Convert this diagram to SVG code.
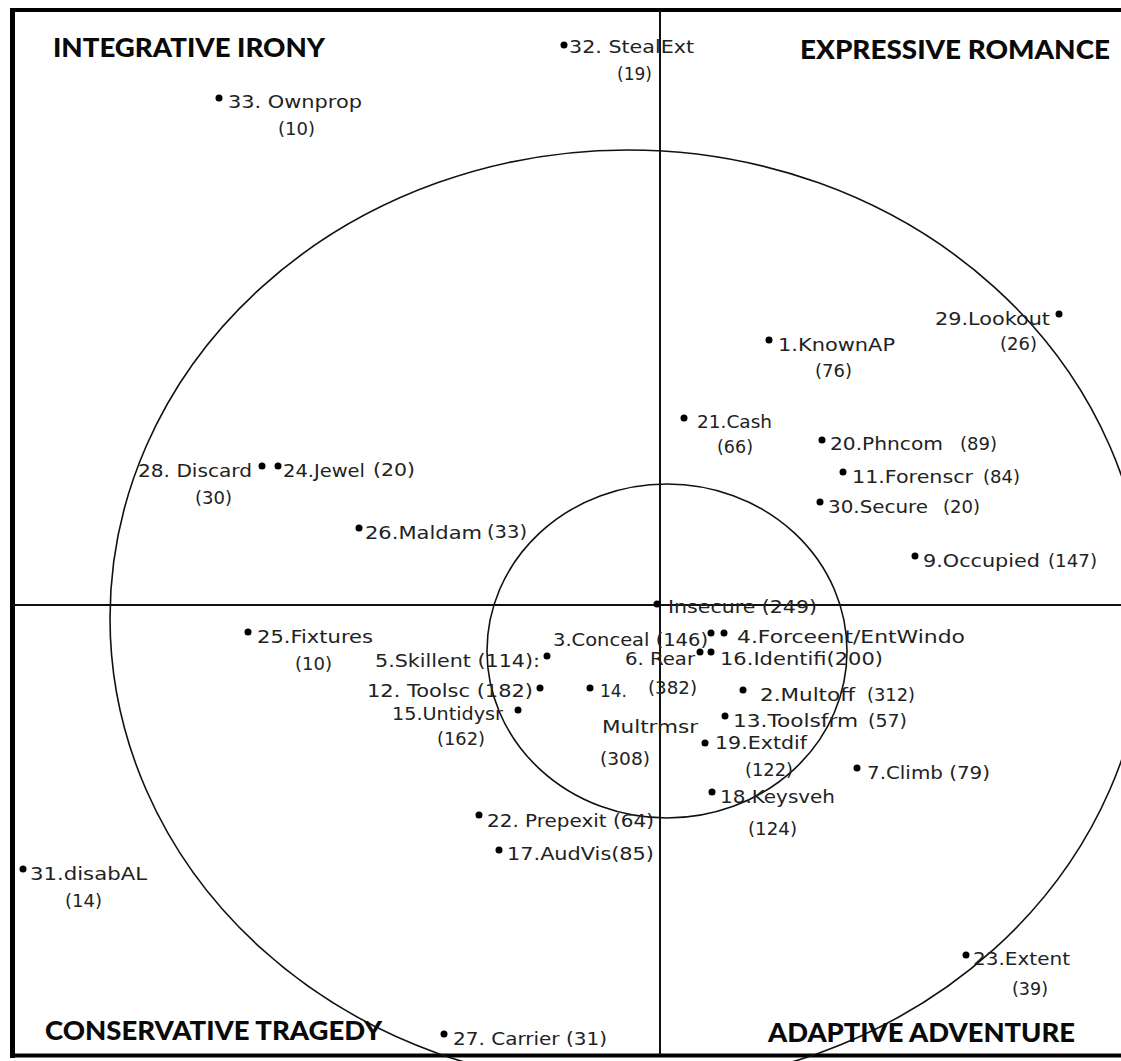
<svg xmlns="http://www.w3.org/2000/svg" width="1121" height="1061" viewBox="0 0 1121 1061">
  <style>
    .frame { fill: none; stroke: #000; }
    .axis { stroke: #111; stroke-width: 2; }
    .ring { fill: none; stroke: #111; stroke-width: 1.6; }
    .head { font-family: Lato, "Liberation Sans", sans-serif; font-weight: 900; font-size: 26px; fill: #0a0a0a; }
    .lbl { font-family: "DejaVu Sans", "Liberation Sans", sans-serif; font-size: 18px; fill: #222; }
    .pt { fill: #000; }
  </style>
  <rect x="0" y="0" width="1121" height="1061" fill="#fff"/>

  <!-- outer border (open on the right-hand side) -->
  <g id="border">
    <line class="frame" x1="12.5" y1="8" x2="12.5" y2="1058" stroke-width="5"/>
    <line class="frame" x1="10" y1="10" x2="1121" y2="10" stroke-width="4"/>
    <line class="frame" x1="10" y1="1055.5" x2="1121" y2="1055.5" stroke-width="4"/>
  </g>

  <!-- quadrant axes and the two rings -->
  <g id="grid">
    <line class="axis" x1="660" y1="10" x2="660" y2="1055"/>
    <line class="axis" x1="12" y1="605" x2="1121" y2="605"/>
    <ellipse class="ring" cx="628" cy="618" rx="518" ry="468"/>
    <ellipse class="ring" cx="667" cy="651" rx="180" ry="167"/>
  </g>

  <!-- quadrant titles -->
  <g id="titles">
    <text id="t-irony" class="head" x="53" y="57" textLength="272" lengthAdjust="spacingAndGlyphs">INTEGRATIVE IRONY</text>
    <text id="t-romance" class="head" x="800" y="59" textLength="310" lengthAdjust="spacingAndGlyphs">EXPRESSIVE ROMANCE</text>
    <text id="t-tragedy" class="head" x="45" y="1040" textLength="337" lengthAdjust="spacingAndGlyphs">CONSERVATIVE TRAGEDY</text>
    <text id="t-adventure" class="head" x="768" y="1042" textLength="307" lengthAdjust="spacingAndGlyphs">ADAPTIVE ADVENTURE</text>
  </g>

  <!-- plotted variables -->
  <g id="points">
    <g id="p32"><circle class="pt" cx="564" cy="45" r="3.5"/>
      <text class="lbl" x="569" y="53" textLength="125" lengthAdjust="spacingAndGlyphs">32. StealExt</text>
      <text class="lbl" x="617" y="80" textLength="35" lengthAdjust="spacingAndGlyphs">(19)</text></g>
    <g id="p33"><circle class="pt" cx="219" cy="98" r="3.5"/>
      <text class="lbl" x="228" y="108" textLength="134" lengthAdjust="spacingAndGlyphs">33. Ownprop</text>
      <text class="lbl" x="278" y="135" textLength="37" lengthAdjust="spacingAndGlyphs">(10)</text></g>
    <g id="p29"><circle class="pt" cx="1059" cy="314" r="3.5"/>
      <text class="lbl" x="935" y="325" textLength="115" lengthAdjust="spacingAndGlyphs">29.Lookout</text>
      <text class="lbl" x="1000" y="350" textLength="37" lengthAdjust="spacingAndGlyphs">(26)</text></g>
    <g id="p1"><circle class="pt" cx="769" cy="340" r="3.5"/>
      <text class="lbl" x="778" y="351" textLength="117" lengthAdjust="spacingAndGlyphs">1.KnownAP</text>
      <text class="lbl" x="815" y="377" textLength="37" lengthAdjust="spacingAndGlyphs">(76)</text></g>
    <g id="p21"><circle class="pt" cx="684" cy="418" r="3.5"/>
      <text class="lbl" x="697" y="428" textLength="75" lengthAdjust="spacingAndGlyphs">21.Cash</text>
      <text class="lbl" x="717" y="453" textLength="36" lengthAdjust="spacingAndGlyphs">(66)</text></g>
    <g id="p20"><circle class="pt" cx="822" cy="440" r="3.5"/>
      <text class="lbl" x="830" y="450" textLength="113" lengthAdjust="spacingAndGlyphs">20.Phncom</text>
      <text class="lbl" x="960" y="450" textLength="37" lengthAdjust="spacingAndGlyphs">(89)</text></g>
    <g id="p11"><circle class="pt" cx="843" cy="472" r="3.5"/>
      <text class="lbl" x="852" y="483" textLength="121" lengthAdjust="spacingAndGlyphs">11.Forenscr</text>
      <text class="lbl" x="983" y="483" textLength="37" lengthAdjust="spacingAndGlyphs">(84)</text></g>
    <g id="p30"><circle class="pt" cx="820" cy="502" r="3.5"/>
      <text class="lbl" x="828" y="513" textLength="100" lengthAdjust="spacingAndGlyphs">30.Secure</text>
      <text class="lbl" x="943" y="513" textLength="37" lengthAdjust="spacingAndGlyphs">(20)</text></g>
    <g id="p9"><circle class="pt" cx="915" cy="556" r="3.5"/>
      <text class="lbl" x="923" y="567" textLength="117" lengthAdjust="spacingAndGlyphs">9.Occupied</text>
      <text class="lbl" x="1048" y="567" textLength="49" lengthAdjust="spacingAndGlyphs">(147)</text></g>
    <g id="p28"><circle class="pt" cx="262" cy="466" r="3.5"/>
      <text class="lbl" x="138" y="477" textLength="114" lengthAdjust="spacingAndGlyphs">28. Discard</text>
      <text class="lbl" x="195" y="504" textLength="37" lengthAdjust="spacingAndGlyphs">(30)</text></g>
    <g id="p24"><circle class="pt" cx="278" cy="466" r="3.5"/>
      <text class="lbl" x="283" y="477" textLength="82" lengthAdjust="spacingAndGlyphs">24.Jewel</text>
      <text class="lbl" x="373" y="476" textLength="42" lengthAdjust="spacingAndGlyphs">(20)</text></g>
    <g id="p26"><circle class="pt" cx="359" cy="528" r="3.5"/>
      <text class="lbl" x="365" y="539" textLength="117" lengthAdjust="spacingAndGlyphs">26.Maldam</text>
      <text class="lbl" x="487" y="538" textLength="40" lengthAdjust="spacingAndGlyphs">(33)</text></g>
    <g id="p25"><circle class="pt" cx="248" cy="632" r="3.5"/>
      <text class="lbl" x="257" y="643" textLength="116" lengthAdjust="spacingAndGlyphs">25.Fixtures</text>
      <text class="lbl" x="295" y="670" textLength="37" lengthAdjust="spacingAndGlyphs">(10)</text></g>
    <g id="p5"><circle class="pt" cx="547" cy="656" r="3.5"/>
      <text class="lbl" x="375" y="667" textLength="165" lengthAdjust="spacingAndGlyphs">5.Skillent (114):</text></g>
    <g id="p12"><circle class="pt" cx="540" cy="688" r="3.5"/>
      <text class="lbl" x="367" y="697" textLength="166" lengthAdjust="spacingAndGlyphs">12. Toolsc (182)</text></g>
    <g id="p15"><circle class="pt" cx="518" cy="710" r="3.5"/>
      <text class="lbl" x="392" y="720" textLength="111" lengthAdjust="spacingAndGlyphs">15.Untidysr</text>
      <text class="lbl" x="437" y="745" textLength="48" lengthAdjust="spacingAndGlyphs">(162)</text></g>
    <g id="pInsecure"><circle class="pt" cx="657" cy="604" r="3.5"/>
      <text class="lbl" x="668" y="613" textLength="149" lengthAdjust="spacingAndGlyphs">Insecure (249)</text></g>
    <g id="p3"><circle class="pt" cx="711" cy="633" r="3.5"/>
      <text class="lbl" x="553" y="646" textLength="155" lengthAdjust="spacingAndGlyphs">3.Conceal (146)</text></g>
    <g id="p4"><circle class="pt" cx="724" cy="633" r="3.5"/>
      <text class="lbl" x="737" y="643" textLength="228" lengthAdjust="spacingAndGlyphs">4.Forceent/EntWindo</text></g>
    <g id="p6"><circle class="pt" cx="700" cy="652" r="3.5"/>
      <text class="lbl" x="625" y="665" textLength="70" lengthAdjust="spacingAndGlyphs">6. Rear</text>
      <text class="lbl" x="648" y="694" textLength="49" lengthAdjust="spacingAndGlyphs">(382)</text></g>
    <g id="p16"><circle class="pt" cx="711" cy="652" r="3.5"/>
      <text class="lbl" x="720" y="665" textLength="163" lengthAdjust="spacingAndGlyphs">16.Identifi(200)</text></g>
    <g id="p14"><circle class="pt" cx="590" cy="688" r="3.5"/>
      <text class="lbl" x="600" y="697" textLength="27" lengthAdjust="spacingAndGlyphs">14.</text>
      <text class="lbl" x="602" y="733" textLength="96" lengthAdjust="spacingAndGlyphs">Multrmsr</text>
      <text class="lbl" x="600" y="765" textLength="50" lengthAdjust="spacingAndGlyphs">(308)</text></g>
    <g id="p2"><circle class="pt" cx="743" cy="690" r="3.5"/>
      <text class="lbl" x="760" y="701" textLength="95" lengthAdjust="spacingAndGlyphs">2.Multoff</text>
      <text class="lbl" x="867" y="701" textLength="48" lengthAdjust="spacingAndGlyphs">(312)</text></g>
    <g id="p13"><circle class="pt" cx="725" cy="716" r="3.5"/>
      <text class="lbl" x="733" y="727" textLength="125" lengthAdjust="spacingAndGlyphs">13.Toolsfrm</text>
      <text class="lbl" x="868" y="727" textLength="39" lengthAdjust="spacingAndGlyphs">(57)</text></g>
    <g id="p19"><circle class="pt" cx="705" cy="743" r="3.5"/>
      <text class="lbl" x="715" y="749" textLength="92" lengthAdjust="spacingAndGlyphs">19.Extdif</text>
      <text class="lbl" x="745" y="776" textLength="48" lengthAdjust="spacingAndGlyphs">(122)</text></g>
    <g id="p7"><circle class="pt" cx="857" cy="768" r="3.5"/>
      <text class="lbl" x="867" y="779" textLength="123" lengthAdjust="spacingAndGlyphs">7.Climb (79)</text></g>
    <g id="p18"><circle class="pt" cx="712" cy="792" r="3.5"/>
      <text class="lbl" x="720" y="803" textLength="115" lengthAdjust="spacingAndGlyphs">18.Keysveh</text>
      <text class="lbl" x="748" y="835" textLength="49" lengthAdjust="spacingAndGlyphs">(124)</text></g>
    <g id="p22"><circle class="pt" cx="479" cy="815" r="3.5"/>
      <text class="lbl" x="487" y="827" textLength="167" lengthAdjust="spacingAndGlyphs">22. Prepexit (64)</text></g>
    <g id="p17"><circle class="pt" cx="499" cy="850" r="3.5"/>
      <text class="lbl" x="507" y="860" textLength="147" lengthAdjust="spacingAndGlyphs">17.AudVis(85)</text></g>
    <g id="p31"><circle class="pt" cx="23" cy="869" r="3.5"/>
      <text class="lbl" x="30" y="880" textLength="117" lengthAdjust="spacingAndGlyphs">31.disabAL</text>
      <text class="lbl" x="65" y="907" textLength="37" lengthAdjust="spacingAndGlyphs">(14)</text></g>
    <g id="p27"><circle class="pt" cx="444" cy="1034" r="3.5"/>
      <text class="lbl" x="453" y="1045" textLength="154" lengthAdjust="spacingAndGlyphs">27. Carrier (31)</text></g>
    <g id="p23"><circle class="pt" cx="966" cy="955" r="3.5"/>
      <text class="lbl" x="973" y="965" textLength="97" lengthAdjust="spacingAndGlyphs">23.Extent</text>
      <text class="lbl" x="1012" y="995" textLength="36" lengthAdjust="spacingAndGlyphs">(39)</text></g>
  </g>
</svg>
